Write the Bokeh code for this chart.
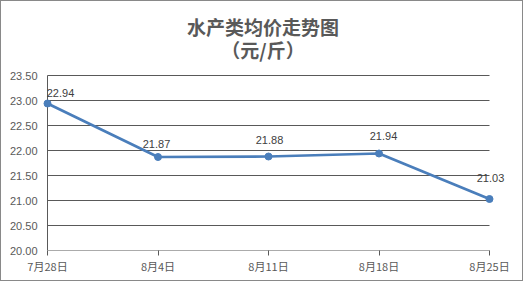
from bokeh.plotting import figure
from bokeh.models import Range1d, FixedTicker, PrintfTickFormatter, ColumnDataSource
from bokeh.core.properties import value
from bokeh.embed import file_html
from bokeh.resources import INLINE

categories = ["7月28日", "8月4日", "8月11日", "8月18日", "8月25日"]
prices = [22.94, 21.87, 21.88, 21.94, 21.03]
y_ticks = [20.0, 20.5, 21.0, 21.5, 22.0, 22.5, 23.0, 23.5]
title_lines = ["水产类均价走势图", "（元/斤）"]

# label offsets (screen px), style only
label_dx = [13, -1.5, 1, 4.5, 1]
label_dy = [-11, -13, -16.5, -17.5, -21.5]
title_dy = [-49.5, -26]

xs = list(range(len(categories)))
n = len(categories) - 1
src = ColumnDataSource(dict(x=xs, y=prices, txt=[f"{v:.2f}" for v in prices],
                            dx=label_dx, dy=label_dy))
grid_src = ColumnDataSource(dict(x0=[0] * len(y_ticks), x1=[n] * len(y_ticks), y=y_ticks))
title_src = ColumnDataSource(dict(x=[n / 2] * 2, y=[y_ticks[-1]] * 2, txt=title_lines, dy=title_dy))

# plot area spans above the top gridline so the title can sit inside it
p = figure(width=523, height=281, output_backend="svg", toolbar_location=None,
           x_range=Range1d(-0.0453, n + 0.19), y_range=Range1d(y_ticks[0], y_ticks[-1] + 1.48),
           min_border_left=41, min_border_right=14, min_border_top=0, min_border_bottom=32)
p.title = None
p.outline_line_color = None
p.background_fill_color = "white"
p.border_fill_color = "white"
p.styles = {"border": "1px solid #898989"}

grid_color = "#595959"
p.xgrid.grid_line_color = None
p.ygrid.grid_line_color = None
# gridlines and axis lines limited to the category span
p.segment(x0="x0", y0="y", x1="x1", y1="y", source=grid_src, line_color=grid_color, line_width=1)
p.segment(x0=[0], y0=[y_ticks[0]], x1=[0], y1=[y_ticks[-1]], line_color=grid_color, line_width=1)

p.xaxis.ticker = FixedTicker(ticks=xs)
p.xaxis.major_label_overrides = {i: c for i, c in enumerate(categories)}
p.xaxis.axis_line_color = None
p.xaxis.major_tick_line_color = grid_color
p.xaxis.major_tick_out = 5
p.xaxis.major_tick_in = 0
p.xaxis.minor_tick_line_color = None
p.xaxis.major_label_standoff = 2
p.xaxis.major_label_text_font = "Noto Sans CJK SC"
p.xaxis.major_label_text_font_size = "11px"
p.xaxis.major_label_text_color = "#595959"

p.yaxis.ticker = FixedTicker(ticks=y_ticks)
p.yaxis.formatter = PrintfTickFormatter(format="%.2f")
p.yaxis.axis_line_color = None
p.yaxis.major_tick_line_color = None
p.yaxis.minor_tick_line_color = None
p.yaxis.major_tick_out = 0
p.yaxis.major_tick_in = 0
p.yaxis.major_label_standoff = 5
p.yaxis.major_label_text_font = "Liberation Sans"
p.yaxis.major_label_text_font_size = "11px"
p.yaxis.major_label_text_color = "#595959"

line_color = "#4A7EBB"
p.line("x", "y", source=src, line_color=line_color, line_width=2.75)
p.scatter("x", "y", source=src, size=7, fill_color=line_color, line_color=line_color)
p.text("x", "y", text="txt", source=src, x_offset="dx", y_offset="dy",
       text_align="center", text_baseline="middle",
       text_font=value("Liberation Sans"), text_font_size="11px", text_color="#404040")

p.text("x", "y", text="txt", source=title_src, x_offset=-5.5, y_offset="dy",
       text_align="center", text_baseline="middle",
       text_font=value("Noto Sans CJK SC"), text_font_style="bold",
       text_font_size="19px", text_color="#595959")

open("out.html", "w").write(file_html(p, INLINE))
